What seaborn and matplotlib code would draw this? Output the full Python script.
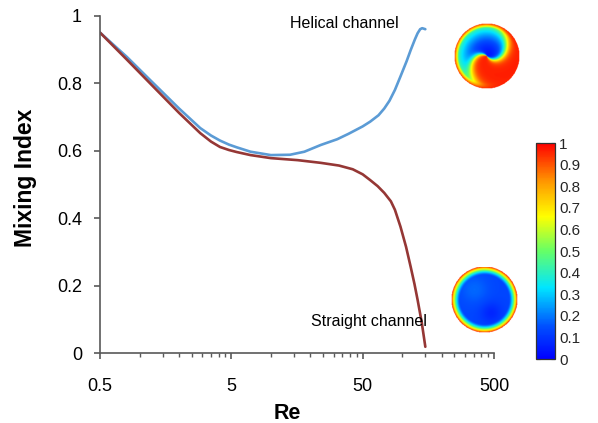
import numpy as np
import pandas as pd
import matplotlib
matplotlib.use("Agg")
import matplotlib.pyplot as plt
import seaborn as sns
from matplotlib.colors import LinearSegmentedColormap
from matplotlib.ticker import FixedLocator, NullFormatter
import matplotlib as mpl

# ---------------- data ----------------
re_helical = [0.5, 0.8, 1.2, 2.0, 2.9, 3.5, 4.1, 4.8, 5.5, 7.0, 10, 14, 18, 24, 32, 39, 50,
              57, 66, 73, 80, 88, 97, 108, 116, 125, 131, 137, 142, 150]
mi_helical = [0.950, 0.878, 0.810, 0.725, 0.667, 0.645, 0.630, 0.618, 0.610, 0.597, 0.587,
              0.588, 0.597, 0.617, 0.634, 0.650, 0.672, 0.686, 0.705, 0.725, 0.748, 0.780,
              0.820, 0.865, 0.898, 0.930, 0.948, 0.960, 0.963, 0.960]
re_straight = [0.5, 0.8, 1.2, 2.0, 2.9, 3.5, 4.1, 4.8, 5.5, 7.0, 10, 16, 24, 33, 42, 50, 57,
               65, 73, 82, 88, 97, 107, 116, 124, 131, 141, 150]
mi_straight = [0.950, 0.870, 0.800, 0.712, 0.652, 0.627, 0.611, 0.602, 0.596, 0.587, 0.578,
               0.572, 0.564, 0.556, 0.545, 0.530, 0.513, 0.495, 0.475, 0.450, 0.425, 0.375,
               0.315, 0.256, 0.205, 0.158, 0.090, 0.019]
x_ticks = [0.5, 5, 50, 500]
x_ticklabels = ["0.5", "5", "50", "500"]
y_ticks = [0, 0.2, 0.4, 0.6, 0.8, 1.0]
y_ticklabels = ["0", "0.2", "0.4", "0.6", "0.8", "1"]
cbar_ticks = [0, 0.1, 0.2, 0.3, 0.4, 0.5, 0.6, 0.7, 0.8, 0.9, 1.0]
cbar_ticklabels = ["0", "0.1", "0.2", "0.3", "0.4", "0.5", "0.6", "0.7", "0.8", "0.9", "1"]

df = pd.concat([
    pd.DataFrame({"Re": re_helical, "MI": mi_helical, "channel": "Helical channel"}),
    pd.DataFrame({"Re": re_straight, "MI": mi_straight, "channel": "Straight channel"}),
])

# ---------------- style ----------------
sns.set_theme(style="white")
plt.rcParams["font.family"] = ["Liberation Sans", "DejaVu Sans"]

W, H = 598, 423
fig = plt.figure(figsize=(W / 100, H / 100), dpi=100)
ax = fig.add_axes([100 / W, 1 - 353.2 / H, 394 / W, 337.5 / H])

palette = {"Helical channel": "#5b9bd5", "Straight channel": "#953735"}
sns.lineplot(data=df, x="Re", y="MI", hue="channel", palette=palette, sort=False,
             estimator=None, linewidth=1.9, legend=False, ax=ax)

ax.set_xscale("log")
ax.set_xlim(0.5, 500)
ax.set_ylim(0, 1)

spine_c = "#595959"
for s in ["top", "right"]:
    ax.spines[s].set_visible(False)
for s in ["left", "bottom"]:
    ax.spines[s].set_color(spine_c)
    ax.spines[s].set_linewidth(1.2)

ax.xaxis.set_major_locator(FixedLocator(x_ticks))
ax.set_xticklabels(x_ticklabels)
minor = [0.5 * k * 10 ** n for n in range(3) for k in range(2, 10)]
ax.xaxis.set_minor_locator(FixedLocator(minor))
ax.xaxis.set_minor_formatter(NullFormatter())
ax.set_yticks(y_ticks)
ax.set_yticklabels(y_ticklabels)

ax.tick_params(axis="x", which="major", direction="out", length=4, width=1.2, color=spine_c,
               labelsize=13, pad=14, bottom=True)
ax.tick_params(axis="x", which="minor", direction="out", length=3, width=1.0, color=spine_c,
               bottom=True)
ax.tick_params(axis="y", which="major", direction="out", length=4, width=1.2, color=spine_c,
               labelsize=13, pad=9, left=True)
for lab in ax.get_xticklabels() + ax.get_yticklabels():
    lab.set_color("black")

ax.set_xlabel("Re", fontsize=15.5, fontweight="bold", color="black")
ax.xaxis.set_label_coords((287 - 100) / 394, -(403 - 353.2) / 337.5)
ax.set_ylabel("Mixing Index", fontsize=16.5, fontweight="bold", color="black")
ax.yaxis.set_label_coords(-(100 - 37) / 394, (353.2 - 178) / 337.5)

def xpix(px):
    return 10 ** (np.log10(0.5) + (px - 100) / 131.5)

ax.text(xpix(290), (353.2 - 24) / 337.5, "Helical channel",
        fontsize=11.5, color="black", ha="left", va="center")
ax.text(xpix(311), (353.2 - 321) / 337.5, "Straight channel",
        fontsize=11.5, color="black", ha="left", va="center")

# ---------------- colormap ----------------
cmap = LinearSegmentedColormap.from_list("rainbow_c", [
    (0.0, "#0000ff"), (0.15, "#0050ff"), (0.33, "#00e5ff"), (0.5, "#66ff66"),
    (0.66, "#ffff00"), (0.82, "#ff9900"), (1.0, "#ff0000")])
cmap.set_bad((1, 1, 1, 0))

cax = fig.add_axes([536 / W, 1 - 359 / H, 19 / W, 216 / H])
norm = mpl.colors.Normalize(0, 1)
cb = mpl.colorbar.ColorbarBase(cax, cmap=cmap, norm=norm, orientation="vertical")
cb.set_ticks(cbar_ticks)
cb.set_ticklabels(cbar_ticklabels)
cb.outline.set_edgecolor("#333333")
cb.outline.set_linewidth(0.9)
cax.tick_params(axis="y", which="both", direction="in", length=3, width=0.8, color="#222222",
                labelsize=11, pad=3, right=True, left=True, labelleft=False)

# ---------------- cross-section images ----------------
n = 140
g = np.linspace(-1, 1, n)
X, Y = np.meshgrid(g, g)
R = np.hypot(X, Y)
T = np.arctan2(Y, X)

# helical: two-arm swirl (blue arm / red arm)
phi = T - 2.1 * R
mix = 0.5 + 0.5 * np.tanh(2.6 * (np.cos(phi - 0.75) + 0.15))
v_low = 0.04 + 0.5 * R ** 2
v = 0.97 * (1 - mix) + v_low * mix
w = np.clip((R - 0.86) / 0.14, 0, 1)
v = v * (1 - w) + 0.96 * w
v = np.where(R <= 1, v, np.nan)

# straight: blue interior with red rim
u = 0.13 + 0.05 * np.exp(-((X + 0.3) ** 2 + (Y - 0.3) ** 2) / 0.2) \
    - 0.06 * np.exp(-((X - 0.2) ** 2 + (Y + 0.4) ** 2) / 0.1)
rim = np.clip((R - 0.74) / 0.26, 0, 1) ** 1.4
u = u * (1 - rim) + 1.0 * rim
u = np.where(R <= 1, u, np.nan)

def inset(cx, cy, r, field):
    a = fig.add_axes([(cx - r) / W, 1 - (cy + r) / H, 2 * r / W, 2 * r / H])
    a.imshow(field, cmap=cmap, vmin=0, vmax=1, origin="lower", extent=(-1, 1, -1, 1),
             interpolation="bilinear")
    a.set_axis_off()

inset(487, 56, 33, v)
inset(484, 300, 33.5, u)

fig.savefig("out.png", dpi=100)
